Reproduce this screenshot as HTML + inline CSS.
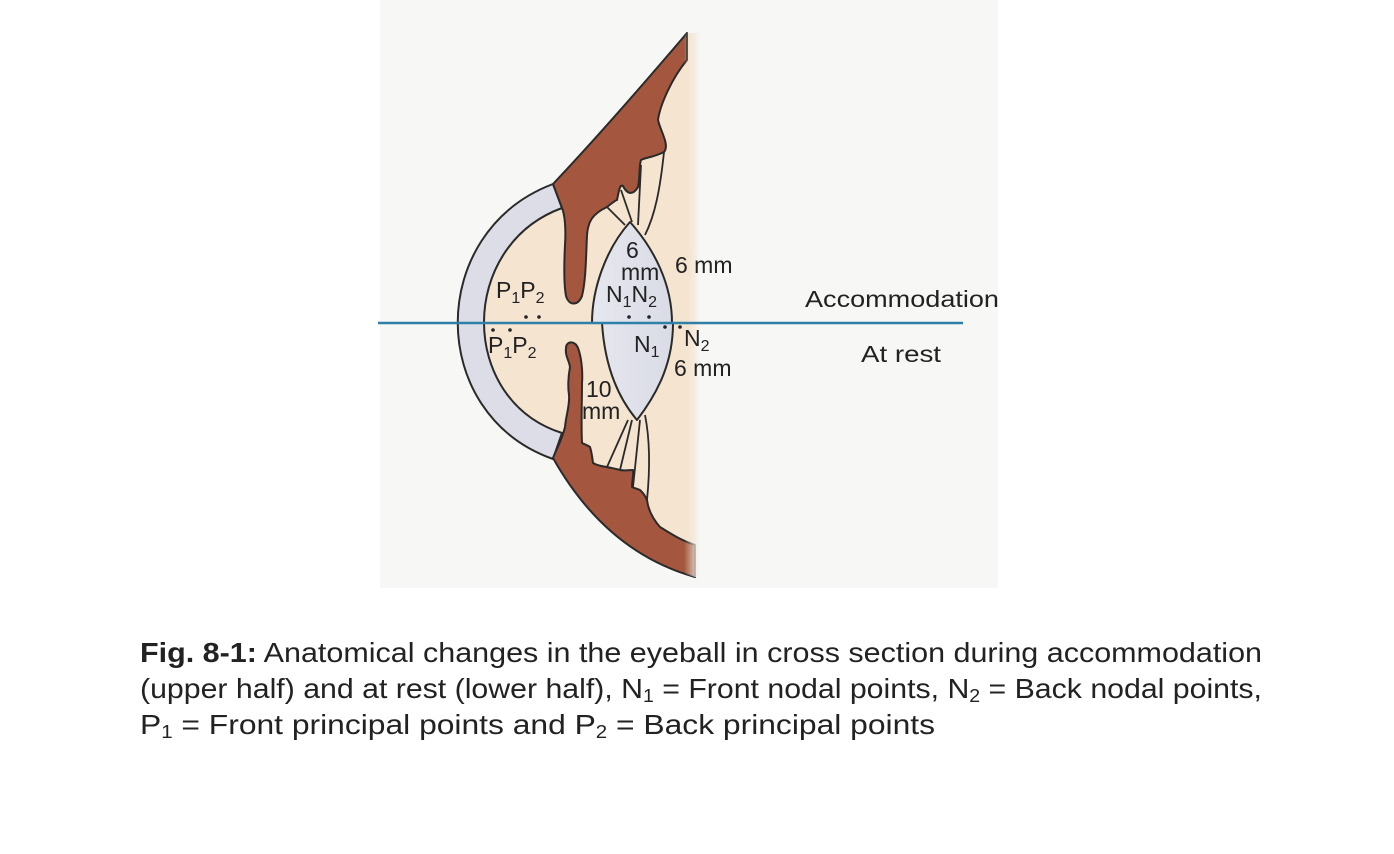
<!DOCTYPE html>
<html><head><meta charset="utf-8"><style>
html,body{margin:0;padding:0;background:#fff;}
svg{display:block;}
text{font-family:"Liberation Sans",Arial,sans-serif;}
</style></head><body>
<svg width="1394" height="854" viewBox="0 0 1394 854" xmlns="http://www.w3.org/2000/svg">
<defs>
<linearGradient id="fade" x1="0" x2="1" y1="0" y2="0">
<stop offset="0" stop-color="#f4e4d0" stop-opacity="0"/>
<stop offset="1" stop-color="#f7f7f5" stop-opacity="1"/>
</linearGradient>
<linearGradient id="lensg" x1="0" x2="1" y1="0" y2="0">
<stop offset="0" stop-color="#e6e7ee"/><stop offset="1" stop-color="#d9dbe6"/>
</linearGradient>
<clipPath id="eyeclip">
<path d="M687,33 Q606,128 553,184 C426,230 426,416 553,458 Q606,552 695,577 L700,577 L700,33 Z"/>
</clipPath>
</defs>
<rect x="0" y="0" width="1394" height="854" fill="#ffffff"/>
<rect x="380" y="0" width="618" height="588" fill="#f7f7f5"/>

<!-- beige interior -->
<path d="M687,33 Q606,128 553,184 C426,230 426,416 553,458 Q606,552 695,577 L698,577 L698,33 Z" fill="#f4e4d0"/>

<!-- cornea band -->
<path d="M553,184 C426,232 426,414 553,459 L562,433 C458,400 458,246 562,208 Z" fill="#dcdde7" stroke="#2a2a2a" stroke-width="2" stroke-linejoin="round"/>

<!-- upper sclera + iris -->
<path d="M687,33 Q606,128 553,184 L562,208 C565,215 566,230 565,245 C564,265 564,285 566,296 C569,306 578,306 582,296 C586,280 586,255 587,235 C588,222 592,214 607,207 C612,203 616,200 617,200 C619,190 620,184 623,186 C628,196 634,194 638,187 C640,178 639,165 641,160 C646,157 652,158 664,152 C670,145 660,130 658,120 C660,105 672,78 687,60 Z" fill="#a4573e" stroke="#2a2a2a" stroke-width="2" stroke-linejoin="round"/>

<!-- lower sclera + iris -->
<path d="M553,458 Q606,552 695,577 L695,545 C680,540 668,532 660,527 C652,518 648,508 647,500 C644,493 641,491 640,490 C636,488 633,488 632,487 C632,480 634,474 633,470 C628,470 624,471 620,470 C614,468 610,468 607,467 C600,466 596,465 593,463 C592,455 591,450 590,447 C587,445 584,444 582,443 C581,425 582,400 582,383 C583,370 581,356 578,348 C575,340 566,341 566,348 C565,356 569,360 570,367 C568,378 568,388 569,395 C570,405 566,415 565,427 C562,440 556,450 553,458 Z" fill="#a4573e" stroke="#2a2a2a" stroke-width="2" stroke-linejoin="round"/>

<!-- zonules -->
<g stroke="#2a2a2a" stroke-width="1.8" fill="none">
<path d="M607,207 L625,225"/>
<path d="M621,190 L632,222"/>
<path d="M641,165 L638,225"/>
<path d="M664,152 C660,190 655,215 645,235"/>
<path d="M607,467 L628,420"/>
<path d="M620,470 L632,420"/>
<path d="M633,487 L640,420"/>
<path d="M647,500 C650,470 650,440 645,415"/>
</g>

<!-- lens -->
<path d="M630,222 C605,250 592,290 592,323 L602,323 C605,370 620,400 637,420 C660,390 673,360 673,323 L672,323 C672,285 655,250 630,222 Z" fill="url(#lensg)" stroke="#2a2a2a" stroke-width="2" stroke-linejoin="round"/>

<!-- right fade edge (clipped to eye) -->
<rect x="684" y="20" width="16" height="570" fill="url(#fade)" clip-path="url(#eyeclip)"/>

<!-- axis line -->
<line x1="378" y1="323" x2="963" y2="323" stroke="#2f80a8" stroke-width="2.5"/>

<!-- dots -->
<g fill="#222">
<circle cx="526" cy="317" r="1.8"/><circle cx="539" cy="317" r="1.8"/>
<circle cx="493" cy="330" r="1.8"/><circle cx="510" cy="330" r="1.8"/>
<circle cx="629" cy="317" r="1.8"/><circle cx="649" cy="317" r="1.8"/>
<circle cx="665" cy="327" r="1.8"/><circle cx="680" cy="327" r="1.8"/>
</g>

<!-- labels -->
<g fill="#222" font-size="23">
<text x="496" y="298">P<tspan font-size="16" dy="5">1</tspan><tspan dy="-5">P</tspan><tspan font-size="16" dy="5">2</tspan></text>
<text x="488" y="353">P<tspan font-size="16" dy="5">1</tspan><tspan dy="-5">P</tspan><tspan font-size="16" dy="5">2</tspan></text>
<text x="626" y="258">6</text>
<text x="621" y="280">mm</text>
<text x="606" y="302">N<tspan font-size="16" dy="5">1</tspan><tspan dy="-5">N</tspan><tspan font-size="16" dy="5">2</tspan></text>
<text x="634" y="352">N<tspan font-size="16" dy="5">1</tspan></text>
<text x="684" y="346">N<tspan font-size="16" dy="5">2</tspan></text>
<text x="674" y="376">6 mm</text>
<text x="675" y="273">6 mm</text>
<text x="586" y="397">10</text>
<text x="582" y="419">mm</text>
<text x="805" y="307" textLength="194" lengthAdjust="spacingAndGlyphs">Accommodation</text>
<text x="861" y="362" textLength="80" lengthAdjust="spacingAndGlyphs">At rest</text>
</g>

<!-- caption -->
<g fill="#222" font-size="28">
<text x="140" y="662" textLength="1122" lengthAdjust="spacingAndGlyphs"><tspan font-weight="bold">Fig. 8-1:</tspan> Anatomical changes in the eyeball in cross section during accommodation</text>
<text x="140" y="698" textLength="1122" lengthAdjust="spacingAndGlyphs">(upper half) and at rest (lower half), N<tspan font-size="18" dy="4">1</tspan><tspan dy="-4"> = Front nodal points, N</tspan><tspan font-size="18" dy="4">2</tspan><tspan dy="-4"> = Back nodal points,</tspan></text>
<text x="140" y="734" textLength="795" lengthAdjust="spacingAndGlyphs">P<tspan font-size="18" dy="4">1</tspan><tspan dy="-4"> = Front principal points and  P</tspan><tspan font-size="18" dy="4">2</tspan><tspan dy="-4"> = Back principal points</tspan></text>
</g>
</svg>
</body></html>
